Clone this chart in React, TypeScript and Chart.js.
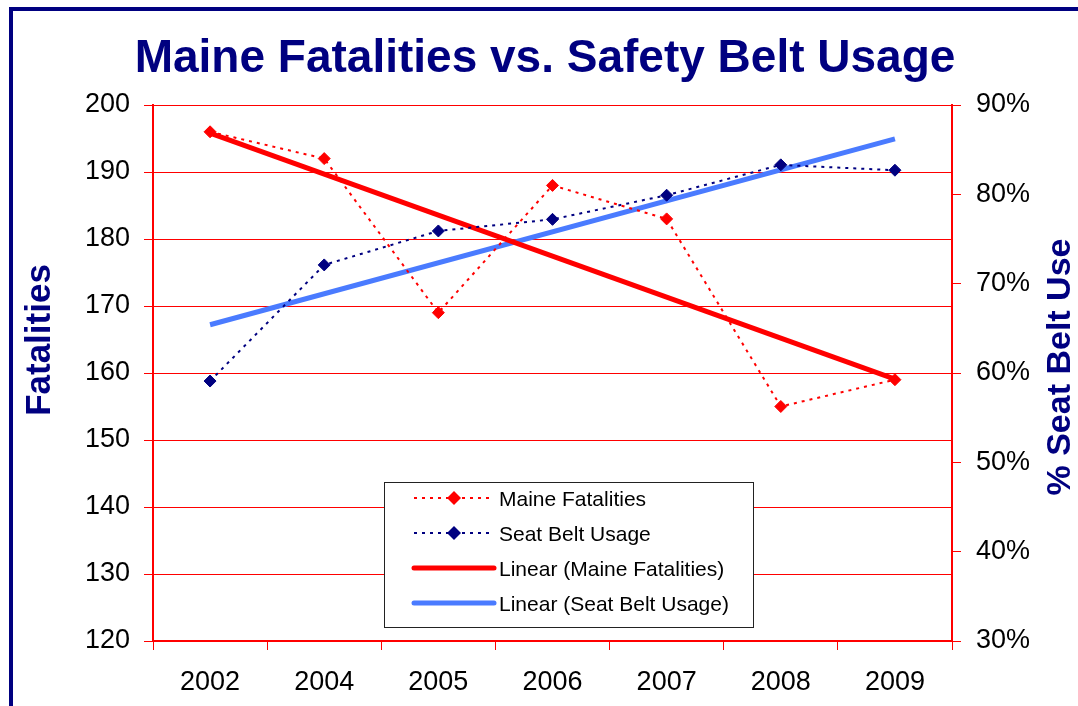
import React, { useEffect, useRef } from "react";
import { Chart, registerables } from "chart.js";

Chart.register(...registerables);

// ---- data ----
const years = ["2002", "2004", "2005", "2006", "2007", "2008", "2009"];
const fatalities = [196, 192, 169, 188, 183, 155, 159];
const beltUsage = [59.1, 72.1, 75.9, 77.2, 79.9, 83.3, 82.7];
const fatalTrend = [195.8, null, null, null, null, null, 159.1];
const beltTrend = [65.4, null, null, null, null, null, 86.2];
const leftRange = { min: 120, max: 200, step: 10 };
const rightRange = { min: 30, max: 90, step: 10 };
const seriesLabels = [
  "Maine Fatalities",
  "Seat Belt Usage",
  "Linear (Maine Fatalities)",
  "Linear (Seat Belt Usage)",
];
const chartTitle = "Maine Fatalities vs. Safety Belt Usage";
const leftTitle = "Fatalities";
const rightTitle = "% Seat Belt Use";

// ---- styles ----
const FONT = '"Liberation Sans", Arial, sans-serif';
const NAVY = "#000080";
const RED = "#FF0000";
const BLUE = "#4A7BFF";

const overlayPlugin = {
  id: "overlay",
  afterDraw(chart: any) {
    const ctx = chart.ctx as CanvasRenderingContext2D;
    ctx.save();
    // title
    ctx.fillStyle = NAVY;
    ctx.font = `bold 46px ${FONT}`;
    ctx.textAlign = "center";
    ctx.textBaseline = "alphabetic";
    ctx.fillText(chartTitle, 545, 72);

    // left axis title
    ctx.save();
    ctx.translate(50, 340);
    ctx.rotate(-Math.PI / 2);
    ctx.font = `bold 35px ${FONT}`;
    ctx.fillText(leftTitle, 0, 0);
    ctx.restore();

    // right axis title
    ctx.save();
    ctx.translate(1070, 367);
    ctx.rotate(-Math.PI / 2);
    ctx.font = `bold 34px ${FONT}`;
    ctx.fillText(rightTitle, 0, 0);
    ctx.restore();

    // legend
    const bx = 384.5, by = 482.5, bw = 369, bh = 145;
    ctx.fillStyle = "#FFFFFF";
    ctx.fillRect(bx, by, bw, bh);
    ctx.strokeStyle = "#222222";
    ctx.lineWidth = 1;
    ctx.setLineDash([]);
    ctx.strokeRect(bx, by, bw, bh);

    chart.data.datasets.forEach((ds: any, i: number) => {
      const y = 498 + i * 35;
      ctx.save();
      ctx.strokeStyle = ds.borderColor;
      ctx.lineWidth = ds.borderWidth;
      ctx.setLineDash(ds.borderDash || []);
      ctx.lineCap = ds.borderDash && ds.borderDash.length ? "butt" : "round";
      ctx.beginPath();
      ctx.moveTo(414, y);
      ctx.lineTo(494, y);
      ctx.stroke();
      ctx.restore();
      if (ds.pointRadius > 0) {
        const r = 7;
        ctx.fillStyle = ds.pointBackgroundColor;
        ctx.beginPath();
        ctx.moveTo(454, y - r);
        ctx.lineTo(454 + r, y);
        ctx.lineTo(454, y + r);
        ctx.lineTo(454 - r, y);
        ctx.closePath();
        ctx.fill();
      }
      ctx.fillStyle = "#000000";
      ctx.font = `21px ${FONT}`;
      ctx.textAlign = "left";
      ctx.textBaseline = "alphabetic";
      ctx.fillText(ds.label, 499, y + 7.5);
    });
    ctx.restore();
  },
};

export default function App() {
  const ref = useRef<HTMLCanvasElement | null>(null);

  useEffect(() => {
    if (!ref.current) return;
    Chart.defaults.font.family = FONT;
    const chart = new Chart(ref.current, {
      type: "line",
      data: {
        labels: years,
        datasets: [
          {
            label: seriesLabels[0],
            data: fatalities,
            yAxisID: "y",
            borderColor: RED,
            backgroundColor: RED,
            borderWidth: 2,
            borderDash: [3, 5],
            pointStyle: "rectRot",
            pointRadius: 6,
            pointBorderWidth: 1,
            pointBackgroundColor: RED,
            pointBorderColor: RED,
            tension: 0,
            order: 1,
          },
          {
            label: seriesLabels[1],
            data: beltUsage,
            yAxisID: "y1",
            borderColor: NAVY,
            backgroundColor: NAVY,
            borderWidth: 2,
            borderDash: [3, 5],
            pointStyle: "rectRot",
            pointRadius: 6,
            pointBorderWidth: 1,
            pointBackgroundColor: NAVY,
            pointBorderColor: NAVY,
            tension: 0,
            order: 1,
          },
          {
            label: seriesLabels[2],
            data: fatalTrend,
            yAxisID: "y",
            borderColor: RED,
            backgroundColor: RED,
            borderWidth: 5,
            pointRadius: 0,
            spanGaps: true,
            order: 2,
          },
          {
            label: seriesLabels[3],
            data: beltTrend,
            yAxisID: "y1",
            borderColor: BLUE,
            backgroundColor: BLUE,
            borderWidth: 5,
            pointRadius: 0,
            spanGaps: true,
            order: 2,
          },
        ] as any,
      },
      options: {
        animation: false,
        responsive: false,
        devicePixelRatio: 1,
        layout: { padding: { top: 105, left: 0, right: 0, bottom: 0 } },
        plugins: {
          legend: { display: false },
          title: { display: false },
          tooltip: { enabled: false },
        },
        scales: {
          x: {
            type: "category",
            offset: true,
            grid: {
              offset: true,
              drawOnChartArea: false,
              drawTicks: true,
              tickLength: 9,
              color: RED,
              lineWidth: 1,
            },
            border: { color: RED, width: 2 },
            ticks: {
              color: "#000000",
              font: { size: 27, family: FONT },
              padding: 16,
              maxRotation: 0,
              autoSkip: false,
            },
            afterFit: (s: any) => {
              s.height = 65;
            },
          },
          y: {
            position: "left",
            min: leftRange.min,
            max: leftRange.max,
            grid: { color: RED, lineWidth: 1, tickLength: 9 },
            border: { color: RED, width: 2 },
            ticks: {
              stepSize: leftRange.step,
              color: "#000000",
              font: { size: 27, family: FONT },
              padding: 14,
            },
            afterFit: (s: any) => {
              s.width = 153;
            },
          },
          y1: {
            position: "right",
            min: rightRange.min,
            max: rightRange.max,
            grid: { drawOnChartArea: false, color: RED, lineWidth: 1, tickLength: 9 },
            border: { color: RED, width: 2 },
            ticks: {
              stepSize: rightRange.step,
              color: "#000000",
              font: { size: 27, family: FONT },
              padding: 15,
              callback: (v: any) => `${v}%`,
            },
            afterFit: (s: any) => {
              s.width = 126;
            },
          },
        },
      } as any,
      plugins: [overlayPlugin],
    });
    return () => chart.destroy();
  }, []);

  return (
    <div
      style={{
        position: "fixed",
        left: 0,
        top: 0,
        width: 1078,
        height: 706,
        background: "#FFFFFF",
        overflow: "hidden",
      }}
    >
      <div
        style={{
          position: "absolute",
          left: 9,
          top: 7,
          width: 1200,
          height: 800,
          borderTop: `4px solid ${NAVY}`,
          borderLeft: `4px solid ${NAVY}`,
        }}
      />
      <canvas
        ref={ref}
        width={1078}
        height={706}
        style={{ position: "absolute", left: 0, top: 0, width: 1078, height: 706 }}
      />
    </div>
  );
}
